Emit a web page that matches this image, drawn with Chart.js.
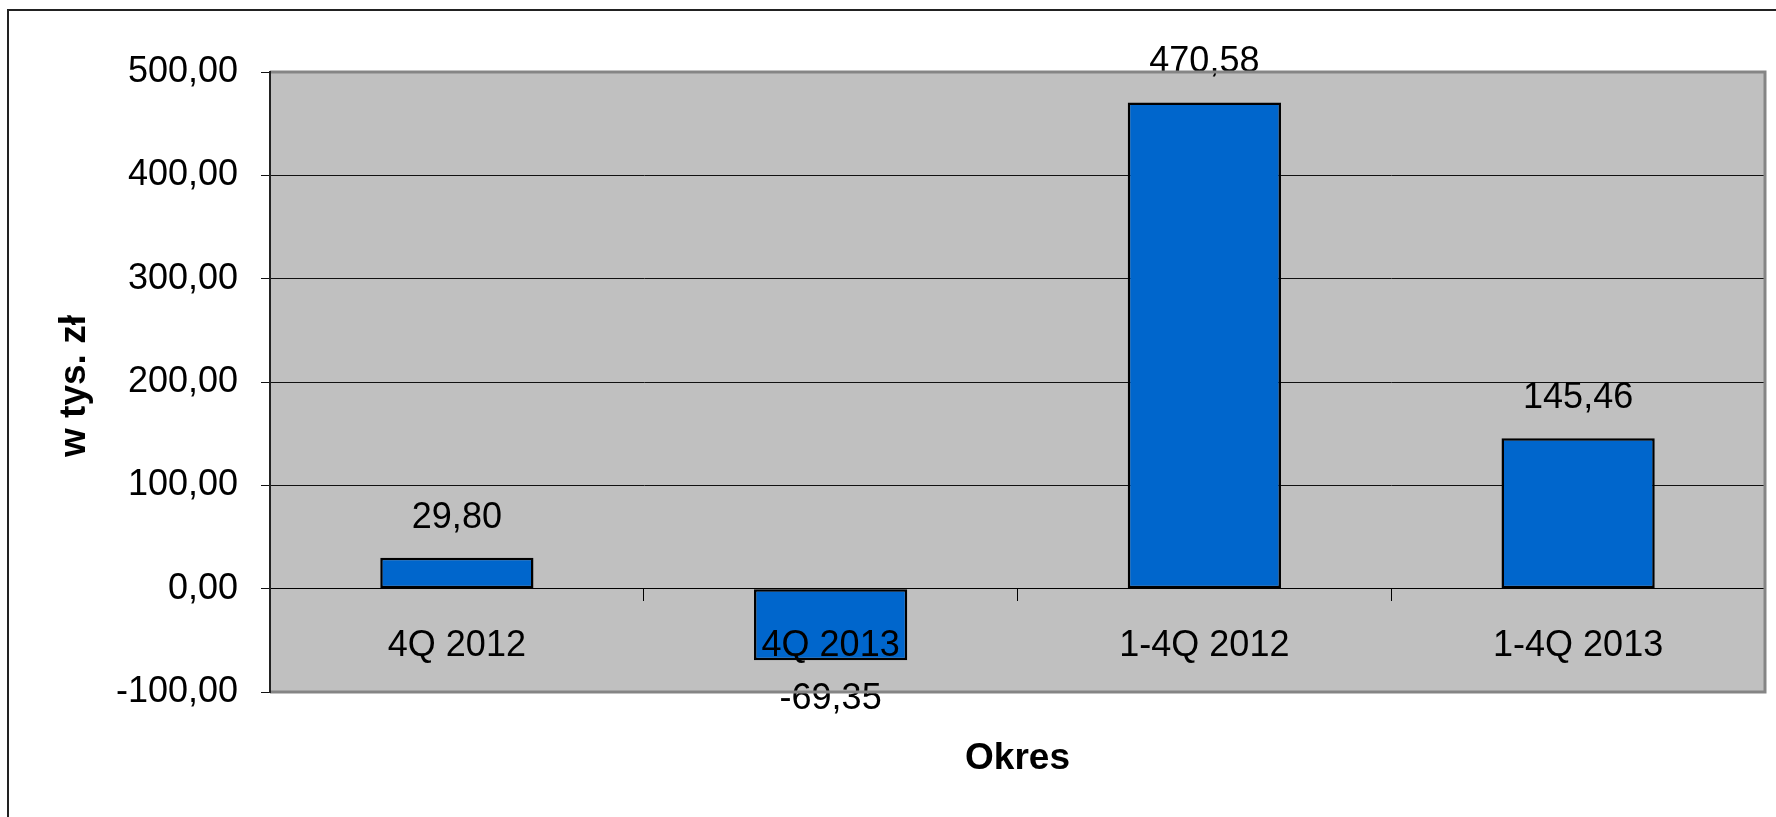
<!DOCTYPE html>
<html>
<head>
<meta charset="utf-8">
<script src="https://cdn.jsdelivr.net/npm/chart.js@4.4.1/dist/chart.umd.min.js"></script>
<style>
html,body{margin:0;padding:0;background:#fff;}
canvas{display:block;}
</style>
</head>
<body>
<canvas id="c" width="1776" height="817"></canvas>
<script>
const categories = ['4Q 2012', '4Q 2013', '1-4Q 2012', '1-4Q 2013'];
const values = [29.80, -69.35, 470.58, 145.46];
const yMin = -100, yMax = 500, yStep = 100;
const xTitle = 'Okres';
const yTitle = 'w tys. zł';

const FONT = '"Liberation Sans", Arial, Helvetica, sans-serif';
const fmt = v => Number(v).toFixed(2).replace('.', ',');

const decor = {
  id: 'decor',
  beforeDraw(chart) {
    const {ctx, chartArea: a} = chart;
    ctx.save();
    ctx.fillStyle = '#ffffff';
    ctx.fillRect(0, 0, chart.width, chart.height);
    ctx.fillStyle = '#C0C0C0';
    ctx.fillRect(a.left, a.top, a.right - a.left, a.bottom - a.top);
    ctx.restore();
  },
  afterDatasetsDraw(chart) {
    const {ctx} = chart;
    const meta = chart.getDatasetMeta(0);
    ctx.save();
    ctx.font = '36px ' + FONT;
    ctx.fillStyle = '#000';
    ctx.textAlign = 'center';
    ctx.textBaseline = 'alphabetic';
    meta.data.forEach((el, i) => {
      const v = values[i];
      const y = v >= 0 ? el.y - 30 : el.y + 49;
      ctx.fillText(fmt(v), el.x, y);
    });
    ctx.restore();
  },
  afterDraw(chart) {
    const {ctx, chartArea: a} = chart;
    ctx.save();
    // plot area border (top, right, bottom)
    ctx.strokeStyle = '#858585';
    ctx.lineWidth = 3;
    ctx.beginPath();
    ctx.moveTo(a.left, a.top);
    ctx.lineTo(a.right, a.top);
    ctx.lineTo(a.right, a.bottom);
    ctx.lineTo(a.left, a.bottom);
    ctx.stroke();
    // y axis line on top
    ctx.strokeStyle = '#222';
    ctx.lineWidth = 2;
    ctx.beginPath();
    ctx.moveTo(a.left, a.top - 1);
    ctx.lineTo(a.left, a.bottom + 1);
    ctx.stroke();
    // outer frame
    ctx.strokeStyle = '#222';
    ctx.lineWidth = 2;
    ctx.beginPath();
    ctx.moveTo(8, chart.height);
    ctx.lineTo(8, 10);
    ctx.lineTo(chart.width, 10);
    ctx.stroke();
    // titles
    ctx.fillStyle = '#000';
    ctx.font = 'bold 37px ' + FONT;
    ctx.textAlign = 'center';
    ctx.textBaseline = 'alphabetic';
    ctx.fillText(xTitle, (a.left + a.right) / 2, 769);
    ctx.translate(85, (a.top + a.bottom) / 2 + 4);
    ctx.rotate(-Math.PI / 2);
    ctx.fillText(yTitle, 0, 0);
    ctx.restore();
  }
};

new Chart(document.getElementById('c'), {
  type: 'bar',
  data: {
    labels: categories,
    datasets: [{
      data: values,
      backgroundColor: '#0066CC',
      borderColor: '#000000',
      borderWidth: 2.5,
      borderSkipped: false,
      barPercentage: 0.41,
      categoryPercentage: 1.0
    }]
  },
  options: {
    responsive: false,
    devicePixelRatio: 1,
    animation: false,
    layout: { padding: { left: 0, top: 72, right: 11, bottom: 125 } },
    plugins: { legend: { display: false }, tooltip: { enabled: false }, title: { display: false } },
    scales: {
      x: {
        position: { y: 0 },
        offset: true,
        grid: { display: true, offset: true, drawOnChartArea: false, drawTicks: true, tickLength: 12, color: '#000', lineWidth: 1 },
        border: { display: true, color: '#000', width: 1 },
        ticks: { z: 1, color: '#000', font: { family: FONT, size: 36 }, padding: 24, maxRotation: 0, autoSkip: false }
      },
      y: {
        min: yMin, max: yMax,
        afterFit(scale) { scale.width = 270; },
        grid: { color: '#111', lineWidth: 1, tickLength: 9, drawTicks: true },
        border: { display: true, color: '#222', width: 2 },
        ticks: { stepSize: yStep, color: '#000', font: { family: FONT, size: 36 }, padding: 23, callback: v => fmt(v) }
      }
    }
  },
  plugins: [decor]
});
</script>
</body>
</html>
